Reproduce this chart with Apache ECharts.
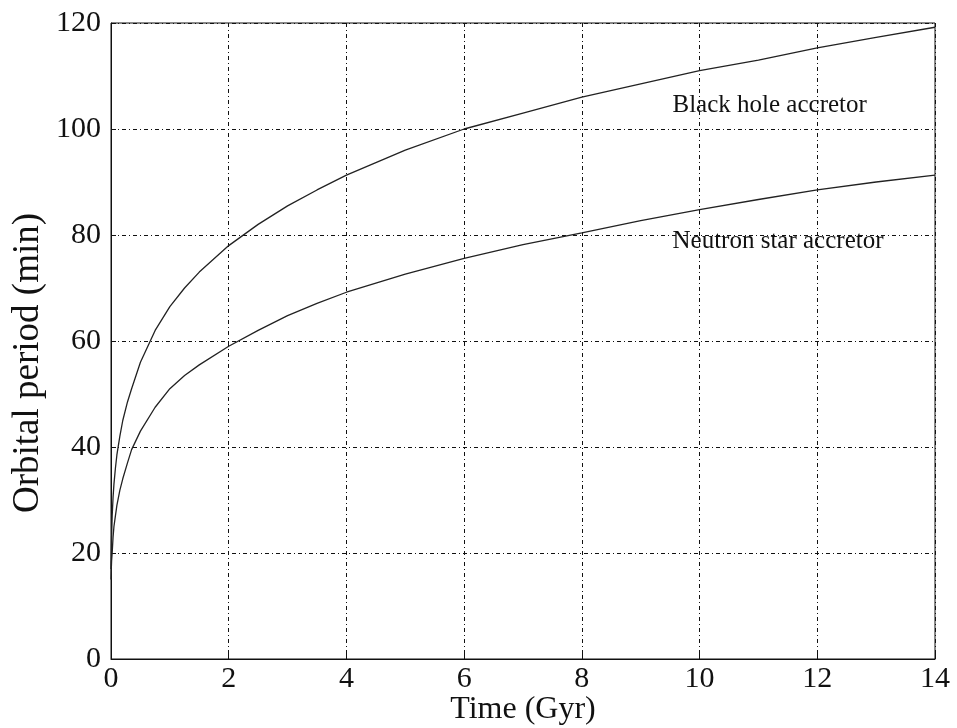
<!DOCTYPE html>
<html>
<head>
<meta charset="utf-8">
<script src="https://cdn.jsdelivr.net/npm/echarts@6/dist/echarts.min.js"></script>
<style>
  html, body { margin: 0; padding: 0; background: #fff; }
  #chart { width: 957px; height: 728px; }
</style>
</head>
<body>
<div id="chart"></div>
<script>
// time in Gyr
var times = [0, 0.005, 0.01, 0.02, 0.035, 0.05, 0.075, 0.1, 0.15, 0.2, 0.28, 0.35, 0.5, 0.75, 1, 1.25, 1.5, 2, 2.5, 3, 3.5, 4, 5, 6, 7, 8, 9, 10, 11, 12, 13, 14]
// orbital period (min)
var blackHole = [17, 20, 23, 27, 30.5, 33, 36, 38.5, 42, 45, 48.5, 51, 56, 62, 66.5, 70, 73, 78, 82, 85.5, 88.5, 91.3, 96, 100, 103, 106, 108.5, 111, 113, 115.3, 117.3, 119.2]
var neutronStar = [15, 17, 18.5, 20, 23, 25, 27, 29, 31.8, 34, 37, 39.5, 43, 47.5, 51, 53.5, 55.5, 59, 62, 64.8, 67.1, 69.2, 72.6, 75.6, 78.2, 80.4, 82.7, 84.8, 86.7, 88.5, 90, 91.3]
var xTicks = [0, 2, 4, 6, 8, 10, 12, 14]
var yTicks = [0, 20, 40, 60, 80, 100, 120]
var labelBH = 'Black hole accretor'
var labelNS = 'Neutron star accretor'

function pairs(xs, ys) {
  return xs.map(function (x, i) { return [x, ys[i]] })
}

var serif = '"Liberation Serif", "DejaVu Serif", serif'
var gridLine = { show: true, lineStyle: { color: '#111', width: 1, type: [4, 3, 1, 3] } }

var chart = echarts.init(document.getElementById('chart'))
var option = {
  animation: false,
  backgroundColor: '#fff',
  grid: {
    left: 111, right: 22, top: 23, bottom: 69,
    outerBoundsMode: 'none',
    containLabel: false,
    show: true, borderColor: '#111', borderWidth: 1, backgroundColor: 'transparent'
  },
  xAxis: {
    type: 'value',
    min: 0, max: 14, interval: 2,
    name: 'Time (Gyr)',
    nameLocation: 'middle',
    nameMoveOverlap: false,
    nameGap: 34,
    nameTextStyle: { fontFamily: serif, fontSize: 32, color: '#111', lineHeight: 34 },
    axisLine: { show: true, lineStyle: { color: '#111', width: 1 } },
    axisTick: { show: true, inside: true, length: 5, lineStyle: { color: '#111' } },
    axisLabel: {
      margin: 5, fontFamily: serif, fontSize: 30, color: '#111',
      formatter: function (v) { return xTicks.indexOf(v) >= 0 ? String(v) : '' }
    },
    splitLine: gridLine
  },
  yAxis: {
    type: 'value',
    min: 0, max: 120, interval: 20,
    name: 'Orbital period (min)',
    nameLocation: 'middle',
    nameMoveOverlap: false,
    nameGap: 64,
    nameTextStyle: { fontFamily: serif, fontSize: 37, color: '#111', padding: [0, 44, 0, 0] },
    axisLine: { show: true, lineStyle: { color: '#111', width: 1 } },
    axisTick: { show: true, inside: true, length: 5, lineStyle: { color: '#111' } },
    axisLabel: {
      margin: 10, fontFamily: serif, fontSize: 30, color: '#111',
      formatter: function (v) { return yTicks.indexOf(v) >= 0 ? String(v) : '' }
    },
    splitLine: gridLine
  },
  series: [
    {
      name: labelBH,
      type: 'line',
      data: pairs(times, blackHole),
      showSymbol: false,
      smooth: false,
      lineStyle: { color: '#222', width: 1.3 },
      markPoint: {
        symbol: 'rect', symbolSize: 0,
        label: { show: true, position: 'right', distance: 0, formatter: labelBH,
          fontFamily: serif, fontSize: 25, color: '#111' },
        data: [{ coord: [9.54, 104.5] }]
      }
    },
    {
      name: labelNS,
      type: 'line',
      data: pairs(times, neutronStar),
      showSymbol: false,
      smooth: false,
      lineStyle: { color: '#222', width: 1.3 },
      markPoint: {
        symbol: 'rect', symbolSize: 0,
        label: { show: true, position: 'right', distance: 0, formatter: labelNS,
          fontFamily: serif, fontSize: 25, color: '#111' },
        data: [{ coord: [9.54, 78.7] }]
      }
    }
  ]
}
chart.setOption(option, true)
</script>
</body>
</html>
